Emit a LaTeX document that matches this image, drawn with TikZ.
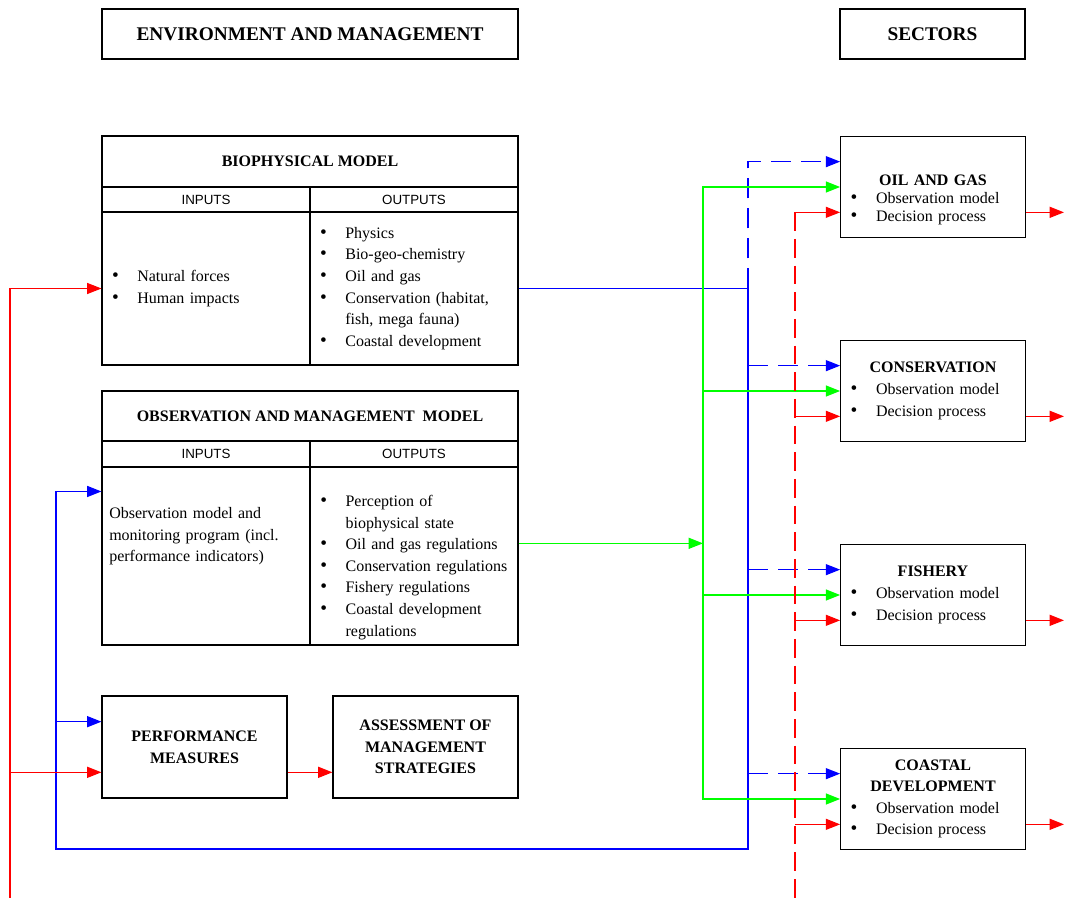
\documentclass[tikz,border=0pt]{standalone}
\usepackage{fontspec}
\setmainfont{Liberation Serif}
\setsansfont{Liberation Sans}
\usetikzlibrary{arrows.meta,positioning}
\newcommand{\bul}{\makebox[19pt][l]{\fontsize{14.5}{14.5}\selectfont\textbullet}}
\newcommand{\nobul}{\hspace*{19pt}}
\tikzset{
  box/.style={draw, line width=0.8pt, inner sep=0pt},
  head/.style={box, font=\fontsize{12}{16.2}\selectfont\bfseries, align=center},
  io/.style={box, font=\fontsize{10}{12}\selectfont\sffamily},
  txt/.style={font=\fontsize{12}{16.2}\selectfont, align=left},
  bl/.style={line width=1pt, blue},
  gr/.style={line width=1pt, green},
  rd/.style={line width=1pt, red},
  bldash/.style={bl, dash pattern=on 15pt off 7.5pt},
  rddash/.style={rd, dash pattern=on 14pt off 6pt},
}
\begin{document}
\begin{tikzpicture}[x=0.75pt, y=-0.75pt, >={Triangle[length=10.75pt,width=8.25pt]}]
  \useasboundingbox (0,0) rectangle (1065,898);
  % Kopfzeilen
  \node[box, minimum width=312pt, minimum height=37.5pt, font=\fontsize{14.5}{17}\selectfont\bfseries] (envhd) at (310,34) {ENVIRONMENT AND MANAGEMENT};
  \node[box, minimum width=138.75pt, minimum height=37.5pt, font=\fontsize{14.5}{17}\selectfont\bfseries] (sechd) at (932.5,34) {SECTORS};
  % Biophysical model
  \node[head, minimum width=312pt, minimum height=38.25pt] (biotitle) at (310,161.5) {BIOPHYSICAL MODEL};
  \node[io, minimum width=156pt, minimum height=18.75pt] (bioinhd) at (206,199.5) {INPUTS};
  \node[io, minimum width=156pt, minimum height=18.75pt] (biouthd) at (414,199.5) {OUTPUTS};
  \node[box, txt, minimum width=156pt, minimum height=114.75pt, text width=141pt, inner xsep=7.5pt] (bioin) at (206,288.5)
    {\bul Natural forces\\ \bul Human impacts};
  \node[box, txt, minimum width=156pt, minimum height=114.75pt, text width=141pt, inner xsep=7.5pt] (bioout) at (414,288.5)
    {\bul Physics\\ \bul Bio-geo-chemistry\\ \bul Oil and gas\\ \bul Conservation (habitat,\\ \nobul fish, mega fauna)\\ \bul Coastal development};
  % Observation and management model
  \node[head, minimum width=312pt, minimum height=37.5pt] (obstitle) at (310,416) {OBSERVATION AND MANAGEMENT\ \ MODEL};
  \node[io, minimum width=156pt, minimum height=19.5pt] (obsinhd) at (206,454) {INPUTS};
  \node[io, minimum width=156pt, minimum height=19.5pt] (obsouthd) at (414,454) {OUTPUTS};
  \node[box, minimum width=156pt, minimum height=133.5pt] (obsin) at (206,556) {};
  \node[box, minimum width=156pt, minimum height=133.5pt] (obsout) at (414,556) {};
  \node[txt, anchor=base west, inner sep=0pt, text width=150pt] (obsintext) at (109,518.5)
    {Observation model and\\ monitoring program (incl.\\ performance indicators)};
  \node[txt, anchor=base west, inner sep=0pt, text width=145pt] (obsouttext) at (320,506.5)
    {\bul Perception of\\ \nobul biophysical state\\ \bul Oil and gas regulations\\ \bul Conservation regulations\\ \bul Fishery regulations\\ \bul Coastal development\\ \nobul regulations};
  % Performance, assessment
  \node[head, minimum width=138.75pt, minimum height=76.5pt] (perf) at (194.5,747) {PERFORMANCE\\ MEASURES};
  \node[head, minimum width=138.75pt, minimum height=76.5pt] (assess) at (425.5,747) {ASSESSMENT OF\\ MANAGEMENT\\ STRATEGIES};
  % Sectors
  \node[box, minimum width=138.5pt, minimum height=76pt] (oil) at (933,187) {};
  \node[txt, inner sep=0pt, text width=123.5pt, font=\fontsize{12}{13.65}\selectfont] (oiltext) at (933,200)
    {\makebox[\linewidth]{\bfseries OIL AND GAS}\\ \bul Observation model\\ \bul Decision process};
  \node[box, txt, minimum width=138.5pt, minimum height=76pt, text width=123.5pt, inner xsep=7.5pt] (cons) at (933,391)
    {\makebox[\linewidth]{\bfseries CONSERVATION}\\ \bul Observation model\\ \bul Decision process};
  \node[box, txt, minimum width=138.5pt, minimum height=76pt, text width=123.5pt, inner xsep=7.5pt] (fish) at (933,595)
    {\makebox[\linewidth]{\bfseries FISHERY}\\ \bul Observation model\\ \bul Decision process};
  \node[box, txt, minimum width=138.5pt, minimum height=76pt, text width=123.5pt, inner xsep=7.5pt] (coast) at (933,799)
    {\makebox[\linewidth]{\bfseries COASTAL}\\ \makebox[\linewidth]{\bfseries DEVELOPMENT}\\ \bul Observation model\\ \bul Decision process};
  % Hilfspunkte
  \coordinate (bbus) at (748,0);
  \coordinate (gbus) at (703,0);
  \coordinate (rbus) at (795,0);
  \coordinate (lred) at (10,898);
  \coordinate (lblue) at (56,849);
  \coordinate (rend) at (1064,0);
  \coordinate (obs-b) at ([yshift=-18.75pt]obsin.north west);
  \coordinate (obs-g) at ([yshift=9.5pt]obsout.east);
  \coordinate (perf-b) at ([yshift=19pt]perf.west);
  \coordinate (perf-r) at ([yshift=-19pt]perf.west);
  \foreach \s in {oil,cons,fish,coast}{
    \coordinate (\s-b) at ([yshift=19pt]\s.west);
    \coordinate (\s-r) at ([yshift=-19pt]\s.west);
  }
  % blau
  \draw[bl,->] (bioout.east) -| (bbus |- lblue) -- (lblue) |- (obs-b);
  \draw[bl,->] (lblue |- perf-b) -- (perf-b);
  \draw[bldash,->] (bioout.east -| bbus) |- (oil-b);
  \foreach \s in {cons,fish,coast}
    \draw[bldash,->] (bbus |- \s-b) -- (\s-b);
  % gruen
  \draw[gr,->] (obs-g) -- (obs-g -| gbus);
  \draw[gr,<->] (coast.west) -| (gbus |- oil.west) -- (oil.west);
  \foreach \s in {cons,fish}
    \draw[gr,->] (gbus |- \s.west) -- (\s.west);
  % rot
  \draw[rd,->] (lred) |- (bioin.west);
  \draw[rd,->] (lred |- perf-r) -- (perf-r);
  \draw[rd,->] (perf.east |- perf-r) -- (assess.west |- perf-r);
  \draw[rddash] (rbus |- oil-r) -- (rbus |- lred);
  \foreach \s in {oil,cons,fish,coast}{
    \draw[rd,->] (rbus |- \s-r) -- (\s-r);
    \draw[rd,->] (\s.east |- \s-r) -- (rend |- \s-r);
  }
\end{tikzpicture}
\end{document}
